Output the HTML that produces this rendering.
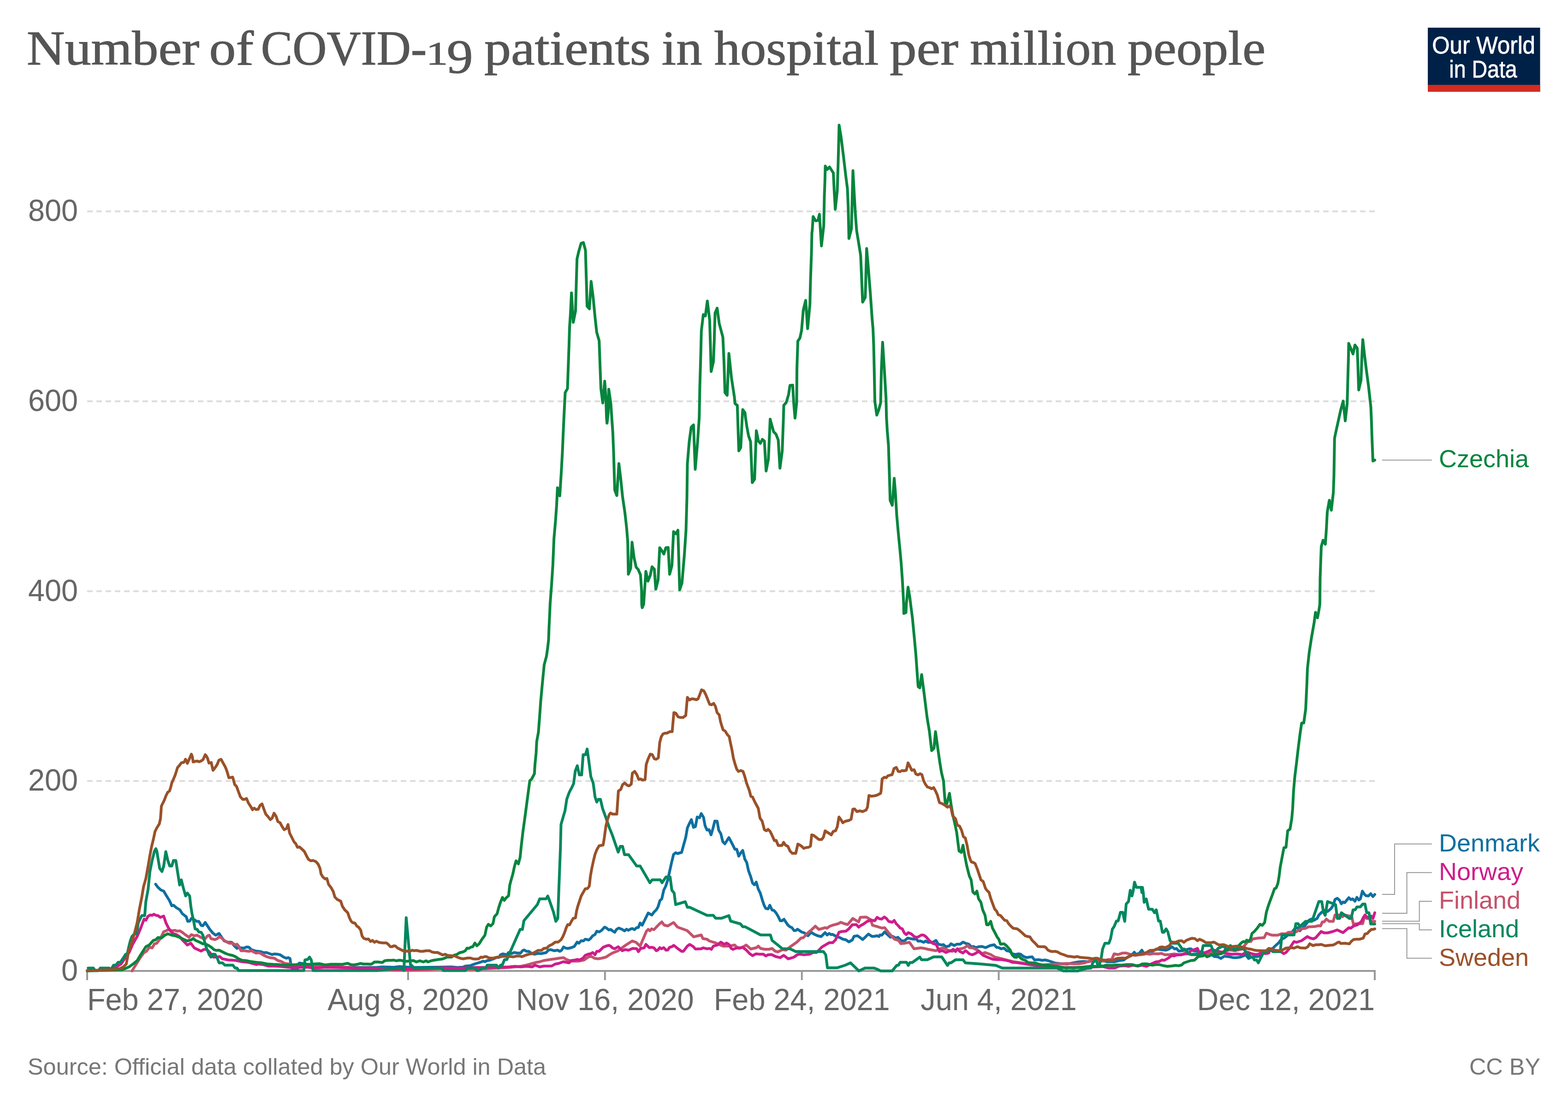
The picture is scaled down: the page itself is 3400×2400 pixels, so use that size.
<!DOCTYPE html>
<html lang="en"><head><meta charset="utf-8"><title>Number of COVID-19 patients in hospital per million people</title>
<style>
html,body{margin:0;padding:0;background:#fff;}
body{width:3400px;height:2400px;overflow:hidden;}
svg{display:block;}
@media (min-resolution:1.5dppx){body{width:100vw;height:auto;}svg{width:100vw;height:auto;}}
text{font-family:"Liberation Sans",Arial,Helvetica,sans-serif;}
.title{font-family:"Liberation Serif","Times New Roman",serif;fill:#555;}
.tick{fill:#666;font-size:64.8px;}
.lbl{font-size:54px;}
.foot{fill:#777;font-size:50.4px;}
.logo{fill:#fff;stroke:#fff;stroke-width:0.8px;}
.ln{fill:none;stroke-width:6;stroke-linejoin:round;stroke-linecap:round;}
.con{fill:none;stroke:#999;stroke-width:2;}
</style></head><body>
<svg width="3400" height="2400" viewBox="0 0 3400 2400">
<rect x="0" y="0" width="3400" height="2400" fill="#fff"/>
<text class="title" font-size="106" stroke="#555" stroke-width="1.2"><tspan x="57.97" y="140.20" font-size="106.00" textLength="374.20" lengthAdjust="spacingAndGlyphs">Number</tspan> <tspan x="453.63" y="140.20" font-size="106.00" textLength="96.41" lengthAdjust="spacingAndGlyphs">of</tspan> <tspan x="565.83" y="140.20" font-size="106.00" textLength="359.30" lengthAdjust="spacingAndGlyphs">COVID-</tspan><tspan x="923.95" y="140.20" font-size="72.84" textLength="47.42" lengthAdjust="spacingAndGlyphs">1</tspan><tspan x="968.78" y="158.03" font-size="102.86" textLength="56.92" lengthAdjust="spacingAndGlyphs">9</tspan> <tspan x="1050.11" y="140.20" font-size="106.00" textLength="360.84" lengthAdjust="spacingAndGlyphs">patients</tspan> <tspan x="1434.77" y="140.20" font-size="106.00" textLength="87.88" lengthAdjust="spacingAndGlyphs">in</tspan> <tspan x="1548.84" y="140.20" font-size="106.00" textLength="356.32" lengthAdjust="spacingAndGlyphs">hospital</tspan> <tspan x="1929.20" y="140.20" font-size="106.00" textLength="148.79" lengthAdjust="spacingAndGlyphs">per</tspan> <tspan x="2103.23" y="140.20" font-size="106.00" textLength="317.08" lengthAdjust="spacingAndGlyphs">million</tspan> <tspan x="2444.98" y="140.20" font-size="106.00" textLength="299.07" lengthAdjust="spacingAndGlyphs">people</tspan></text>
<g><rect x="3096" y="60" width="243.5" height="139" fill="#002147"/><rect x="3096" y="184" width="243.5" height="15" fill="#D42B21"/>
<text class="logo" transform="translate(3105.20,115.9) scale(0.9489,1)" font-size="52">Our World</text>
<text class="logo" transform="translate(3142.31,168) scale(0.8951,1)" font-size="52">in Data</text>
</g>
<line x1="189" x2="2981" y1="1693.3" y2="1693.3" stroke="#ddd" stroke-width="4" stroke-dasharray="12,8"/>
<line x1="189" x2="2981" y1="1281.7" y2="1281.7" stroke="#ddd" stroke-width="4" stroke-dasharray="12,8"/>
<line x1="189" x2="2981" y1="870.0" y2="870.0" stroke="#ddd" stroke-width="4" stroke-dasharray="12,8"/>
<line x1="189" x2="2981" y1="458.3" y2="458.3" stroke="#ddd" stroke-width="4" stroke-dasharray="12,8"/>
<text class="tick" transform="translate(169,2125.8) scale(1,1.04)" text-anchor="end">0</text>
<text class="tick" transform="translate(169,1714.1) scale(1,1.04)" text-anchor="end">200</text>
<text class="tick" transform="translate(169,1302.5) scale(1,1.04)" text-anchor="end">400</text>
<text class="tick" transform="translate(169,890.8) scale(1,1.04)" text-anchor="end">600</text>
<text class="tick" transform="translate(169,479.1) scale(1,1.04)" text-anchor="end">800</text>
<line x1="187" x2="2983" y1="2105" y2="2105" stroke="#999" stroke-width="4"/>
<line x1="189.0" x2="189.0" y1="2105" y2="2125" stroke="#999" stroke-width="4"/>
<text class="tick" transform="translate(189.0,2190) scale(1,1.04)" text-anchor="start">Feb 27, 2020</text>
<line x1="884.9" x2="884.9" y1="2105" y2="2125" stroke="#999" stroke-width="4"/>
<text class="tick" transform="translate(884.9,2190) scale(1,1.04)" text-anchor="middle">Aug 8, 2020</text>
<line x1="1311.8" x2="1311.8" y1="2105" y2="2125" stroke="#999" stroke-width="4"/>
<text class="tick" transform="translate(1311.8,2190) scale(1,1.04)" text-anchor="middle">Nov 16, 2020</text>
<line x1="1738.7" x2="1738.7" y1="2105" y2="2125" stroke="#999" stroke-width="4"/>
<text class="tick" transform="translate(1738.7,2190) scale(1,1.04)" text-anchor="middle">Feb 24, 2021</text>
<line x1="2165.6" x2="2165.6" y1="2105" y2="2125" stroke="#999" stroke-width="4"/>
<text class="tick" transform="translate(2165.6,2190) scale(1,1.04)" text-anchor="middle">Jun 4, 2021</text>
<line x1="2981.0" x2="2981.0" y1="2105" y2="2125" stroke="#999" stroke-width="4"/>
<text class="tick" transform="translate(2981.0,2190) scale(1,1.04)" text-anchor="end">Dec 12, 2021</text>
<polyline class="ln" stroke="#0F6FA0" points="337.5,1917.0 342.5,1923.8 348.8,1929.5 355.0,1932.0 361.2,1942.5 367.5,1952.5 372.5,1963.8 376.2,1962.5 382.5,1968.0 390.0,1972.5 395.0,1980.5 401.2,1985.5 403.8,1987.5 407.0,1997.5 411.2,1997.0 415.0,1991.2 420.0,1993.0 426.2,1997.5 431.2,1997.5 436.2,2006.2 440.0,2007.0 445.0,2000.0 450.0,2007.5 455.0,2015.0 461.2,2022.5 467.5,2027.5 475.0,2023.8 480.0,2031.2 486.2,2040.0 493.8,2042.5 502.5,2043.0 507.5,2050.0 513.8,2056.2 517.5,2053.8 525.0,2055.5 530.0,2055.0 535.0,2053.0 540.0,2053.8 545.0,2058.8 555.0,2062.0 565.0,2063.0 572.5,2065.5 577.5,2065.0 590.0,2069.5 595.0,2068.2 602.5,2068.8 607.5,2070.0 615.0,2075.0 621.2,2077.5 625.0,2076.2 628.8,2078.0 631.2,2095.0 633.8,2100.0 645.0,2100.0 648.8,2088.0 655.0,2088.8 667.5,2091.2 754.0,2097.5 816.5,2097.5 829.0,2096.2 854.0,2097.0 866.5,2095.5 875.8,2096.2 894.0,2097.5 954.0,2096.8 979.0,2096.2 991.5,2097.5 1004.0,2096.8 1009.0,2094.5 1019.0,2093.8 1029.0,2090.0 1041.5,2086.2 1047.8,2083.8 1051.5,2085.0 1056.5,2082.5 1061.5,2082.0 1070.2,2078.8 1076.5,2075.8 1081.5,2075.8 1085.2,2070.0 1090.2,2068.0 1099.0,2070.0 1102.8,2065.0 1109.0,2067.5 1115.2,2065.0 1121.5,2066.2 1129.0,2066.2 1132.8,2061.2 1136.5,2059.5 1141.5,2062.5 1146.5,2062.5 1151.5,2066.2 1159.0,2068.8 1166.5,2067.0 1174.0,2067.5 1179.0,2066.2 1184.0,2065.5 1189.0,2060.0 1194.0,2058.8 1201.5,2061.2 1209.0,2060.0 1214.0,2062.5 1217.8,2060.0 1222.0,2053.0 1226.5,2055.5 1231.5,2056.2 1239.0,2054.5 1245.2,2052.0 1251.5,2042.5 1255.2,2045.0 1260.2,2039.5 1265.2,2040.0 1269.0,2036.2 1276.5,2038.0 1280.2,2035.0 1285.2,2028.8 1290.2,2026.2 1294.0,2018.8 1299.0,2020.5 1304.0,2017.5 1311.0,2010.0 1315.2,2012.0 1320.2,2016.2 1324.0,2015.0 1328.0,2018.0 1333.0,2021.2 1336.8,2015.0 1341.8,2012.0 1349.2,2015.0 1354.2,2018.2 1358.5,2014.5 1362.5,2017.0 1368.0,2013.8 1371.8,2013.2 1375.5,2015.5 1380.5,2011.2 1384.2,2010.8 1388.0,2001.2 1392.5,2005.8 1405.5,1979.5 1413.5,1983.8 1418.0,1977.5 1423.0,1972.5 1426.8,1966.2 1431.0,1952.5 1435.0,1948.8 1439.2,1930.0 1443.5,1921.2 1448.0,1907.5 1451.8,1890.0 1456.0,1871.2 1460.5,1852.5 1465.0,1848.8 1469.2,1850.5 1478.0,1848.0 1482.5,1831.2 1486.8,1816.2 1490.5,1795.0 1495.0,1785.0 1499.2,1777.0 1503.8,1793.8 1508.0,1792.0 1511.8,1771.2 1516.8,1773.0 1520.5,1763.8 1525.5,1772.0 1528.8,1790.0 1533.0,1799.5 1537.5,1798.8 1541.8,1810.0 1546.2,1795.0 1550.0,1780.0 1555.0,1780.5 1558.5,1800.0 1563.0,1807.5 1567.2,1824.5 1571.8,1829.5 1580.5,1815.8 1588.0,1830.0 1593.5,1841.2 1597.5,1841.2 1601.8,1856.2 1605.5,1850.0 1610.5,1843.8 1615.0,1862.5 1619.2,1870.0 1623.0,1887.5 1628.0,1901.2 1631.8,1914.5 1635.5,1918.2 1639.8,1912.5 1644.2,1927.5 1648.5,1936.2 1653.0,1951.2 1656.8,1962.5 1660.5,1969.5 1665.5,1970.5 1669.2,1962.5 1674.2,1973.0 1678.0,1973.8 1682.5,1978.8 1687.5,1987.0 1691.8,1996.2 1695.5,1996.2 1700.0,1993.0 1708.0,2005.0 1713.0,2009.5 1716.8,2010.8 1721.8,2017.5 1725.5,2017.5 1729.2,2014.5 1738.0,2020.5 1744.2,2022.5 1751.8,2028.8 1759.2,2021.2 1765.5,2025.5 1773.0,2028.8 1780.5,2030.5 1789.2,2022.0 1793.5,2027.0 1798.0,2023.8 1801.8,2026.2 1805.5,2025.8 1814.2,2030.5 1820.5,2032.5 1828.0,2036.2 1834.2,2037.5 1840.5,2042.0 1848.0,2038.0 1851.8,2030.0 1859.2,2028.8 1864.2,2032.0 1870.5,2037.0 1876.8,2031.2 1883.0,2025.0 1890.5,2030.0 1895.5,2030.0 1902.0,2028.8 1905.8,2030.5 1908.2,2027.0 1912.0,2027.5 1918.2,2020.5 1925.8,2027.5 1930.8,2032.0 1935.8,2030.0 1942.0,2033.8 1947.0,2032.0 1954.5,2039.5 1960.8,2040.0 1968.2,2033.8 1974.5,2035.0 1982.0,2036.2 1987.0,2035.8 1990.8,2040.5 1995.8,2040.0 2003.2,2043.0 2007.0,2040.0 2012.0,2043.0 2022.0,2043.0 2029.5,2038.8 2034.5,2047.0 2042.0,2048.8 2045.8,2048.0 2050.8,2052.5 2058.2,2050.8 2062.0,2046.2 2069.5,2050.0 2074.5,2047.0 2082.0,2047.0 2088.2,2042.5 2094.5,2045.5 2100.8,2047.0 2105.8,2052.5 2110.8,2052.0 2115.8,2054.5 2122.0,2052.5 2129.5,2052.0 2137.0,2054.5 2147.0,2050.0 2155.8,2048.2 2160.8,2053.8 2165.8,2054.5 2170.8,2057.0 2177.0,2055.5 2183.2,2061.2 2188.2,2062.0 2195.8,2068.0 2202.0,2069.5 2208.2,2068.0 2213.2,2068.8 2219.5,2073.8 2227.0,2076.2 2232.0,2075.0 2238.2,2074.5 2243.2,2081.2 2252.0,2080.5 2259.5,2082.0 2265.8,2081.2 2272.0,2082.5 2279.5,2085.0 2288.2,2088.0 2302.0,2089.5 2314.5,2090.0 2327.0,2087.5 2338.2,2085.5 2349.5,2084.5 2359.5,2085.0 2367.0,2083.0 2374.5,2082.5 2387.0,2081.2 2399.5,2085.0 2414.5,2085.5 2427.0,2082.5 2437.0,2081.2 2444.5,2075.0 2452.0,2072.5 2459.5,2064.5 2464.5,2069.5 2470.8,2066.2 2476.0,2060.0 2481.0,2068.8 2487.2,2065.0 2493.5,2062.5 2499.8,2062.0 2507.2,2057.5 2516.0,2058.8 2528.5,2060.0 2534.8,2057.5 2541.0,2052.5 2547.2,2057.5 2551.0,2056.2 2556.0,2062.0 2563.5,2061.2 2571.0,2059.5 2578.5,2057.0 2583.5,2057.5 2587.2,2061.2 2603.5,2063.8 2618.5,2067.5 2626.0,2069.5 2633.5,2073.8 2641.0,2074.5 2647.2,2078.0 2654.8,2073.0 2661.0,2073.8 2667.2,2074.5 2673.5,2076.2 2681.0,2076.2 2689.8,2075.0 2696.0,2072.5 2701.0,2070.0 2707.2,2078.0 2713.5,2075.0 2719.8,2073.8 2728.5,2073.8 2736.0,2067.5 2746.0,2062.5 2753.5,2060.0 2759.8,2056.2 2766.0,2050.0 2772.2,2044.5 2778.5,2036.2 2784.8,2033.8 2792.2,2027.5 2801.0,2021.2 2808.5,2012.5 2813.5,2011.2 2818.5,2018.0 2823.5,2012.5 2831.0,2005.0 2838.5,1995.0 2843.5,1992.5 2848.5,1995.5 2856.0,1991.2 2859.8,1983.8 2864.8,1978.8 2871.0,1973.8 2878.5,1976.2 2886.0,1970.0 2891.0,1962.5 2894.8,1950.0 2899.8,1947.5 2904.8,1952.0 2908.5,1959.5 2912.2,1955.5 2916.0,1957.0 2920.5,1951.2 2924.8,1946.2 2929.0,1950.5 2933.0,1948.8 2938.0,1953.8 2942.2,1945.5 2946.5,1951.2 2949.8,1948.8 2954.2,1932.0 2958.5,1938.8 2962.2,1942.0 2967.2,1942.5 2972.2,1937.5 2976.8,1943.8 2981.0,1939.2"/>
<polyline class="ln" stroke="#C4526B" points="286.2,2105.0 305.0,2075.0 312.5,2065.0 317.5,2062.5 323.8,2053.8 330.0,2055.0 335.0,2046.2 340.0,2045.0 347.5,2035.0 355.0,2020.0 360.0,2018.0 366.2,2015.0 372.5,2018.0 378.8,2017.0 385.0,2018.8 390.0,2018.0 395.0,2021.2 402.5,2027.0 410.0,2032.0 415.0,2026.2 421.2,2028.8 427.5,2027.5 432.5,2030.5 438.8,2033.8 445.0,2035.0 450.0,2028.8 453.8,2027.5 457.5,2035.0 466.2,2037.0 471.2,2035.0 475.0,2031.2 480.0,2033.0 487.5,2040.0 497.5,2045.0 505.0,2045.0 510.0,2048.8 513.8,2047.0 517.5,2051.2 522.5,2061.2 530.0,2061.2 540.0,2062.5 545.0,2061.2 550.0,2063.8 555.0,2066.2 562.5,2065.5 570.0,2070.0 577.5,2073.8 585.0,2076.2 595.0,2077.5 602.5,2082.5 610.0,2084.5 617.5,2088.8 627.5,2090.0 642.5,2093.8 667.5,2095.0 705.0,2096.2 754.0,2097.0 779.0,2100.0 829.0,2102.0 879.0,2103.8 929.0,2102.5 954.0,2100.0 1004.0,2101.2 1029.0,2102.0 1054.0,2100.0 1079.0,2098.8 1104.0,2097.5 1129.0,2095.0 1141.5,2092.5 1154.0,2088.8 1164.0,2086.2 1169.0,2085.5 1179.0,2082.5 1191.5,2080.5 1204.0,2078.8 1211.5,2077.5 1221.5,2076.2 1229.0,2080.5 1235.2,2082.5 1241.5,2083.8 1254.0,2083.8 1266.5,2081.2 1275.2,2075.0 1281.5,2073.0 1289.0,2077.5 1296.5,2078.8 1304.0,2077.5 1314.0,2075.0 1321.5,2070.0 1328.0,2066.2 1340.5,2061.2 1355.5,2050.0 1371.0,2040.0 1379.2,2043.0 1388.0,2051.2 1401.8,2018.8 1405.5,2015.0 1409.2,2018.0 1413.0,2013.8 1418.0,2015.5 1429.2,2003.8 1435.0,1998.8 1440.5,2005.8 1448.0,2007.5 1460.5,2000.0 1469.2,2010.0 1490.0,2017.5 1504.2,2031.2 1520.5,2027.0 1524.2,2035.0 1533.0,2036.2 1538.0,2040.0 1550.5,2043.8 1558.0,2047.5 1568.0,2051.2 1578.0,2051.2 1586.8,2050.0 1593.0,2048.8 1598.0,2053.8 1605.5,2055.0 1613.0,2052.0 1618.0,2048.8 1628.0,2057.5 1640.5,2054.5 1644.2,2051.2 1649.2,2056.2 1658.0,2058.0 1668.0,2058.0 1674.2,2056.2 1680.5,2062.0 1686.8,2063.8 1696.8,2058.8 1704.2,2060.0 1715.5,2051.2 1728.0,2042.5 1736.8,2033.8 1741.8,2033.0 1753.0,2021.2 1760.5,2015.0 1768.0,2008.0 1775.5,2015.0 1783.0,2013.0 1789.2,2011.2 1793.0,2012.5 1798.0,2008.8 1805.5,2005.8 1818.0,2002.5 1823.0,1999.5 1830.5,2002.5 1838.0,2004.5 1849.2,1991.2 1855.5,1995.0 1861.8,1998.8 1865.5,1988.8 1878.0,1988.2 1888.0,1993.8 1891.8,2005.8 1902.0,2008.8 1912.0,2012.0 1918.2,2011.2 1927.0,2022.5 1939.5,2036.2 1948.2,2038.8 1953.2,2045.8 1960.8,2045.0 1972.0,2043.0 1982.0,2057.0 1997.0,2055.0 2004.5,2056.2 2012.0,2058.0 2029.5,2061.2 2038.2,2057.0 2045.8,2055.0 2054.5,2059.5 2064.5,2062.5 2077.0,2058.0 2087.0,2056.2 2093.2,2053.8 2098.2,2049.5 2102.0,2054.5 2109.5,2055.0 2122.0,2061.2 2129.5,2067.5 2135.8,2065.0 2148.2,2069.5 2157.0,2075.0 2169.5,2078.0 2184.5,2082.0 2197.0,2085.0 2214.5,2087.5 2232.0,2090.0 2252.0,2092.5 2272.0,2091.2 2292.0,2090.0 2314.5,2088.8 2327.0,2089.5 2339.5,2089.5 2352.0,2087.5 2359.5,2084.5 2369.5,2083.8 2377.0,2082.5 2392.0,2083.8 2402.0,2080.5 2410.8,2080.0 2415.8,2068.0 2424.5,2069.5 2434.5,2066.2 2442.0,2066.2 2452.0,2069.5 2462.0,2071.2 2469.5,2070.0 2476.0,2069.5 2483.5,2067.5 2493.5,2068.8 2501.0,2067.5 2511.0,2068.0 2518.5,2067.0 2526.0,2070.0 2536.0,2069.5 2546.0,2068.2 2556.0,2069.5 2567.2,2068.8 2576.0,2067.5 2583.5,2070.0 2593.5,2070.0 2616.0,2068.8 2623.5,2067.0 2631.0,2065.0 2651.0,2063.8 2666.0,2059.5 2678.5,2061.2 2693.5,2057.5 2698.5,2050.0 2706.0,2041.2 2712.2,2041.2 2716.0,2035.8 2728.5,2033.8 2741.0,2033.0 2746.0,2023.0 2753.5,2026.2 2758.5,2027.5 2771.0,2027.5 2778.5,2024.5 2788.5,2024.5 2793.5,2021.2 2801.0,2021.2 2811.0,2020.0 2821.0,2013.8 2831.0,2012.5 2837.2,2009.5 2851.0,2008.8 2858.5,2007.0 2863.5,2007.5 2867.2,1998.8 2871.0,1998.8 2876.0,1992.5 2882.2,1997.5 2891.0,1997.5 2894.8,1983.8 2906.0,1983.8 2911.0,1987.5 2916.0,1983.8 2927.2,1986.2 2931.0,1987.5 2934.8,2003.8 2943.5,2002.5 2954.8,2002.5 2959.8,1983.8 2963.5,1991.2 2969.8,1991.2 2973.5,1997.5 2981.0,1997.5"/>
<polyline class="ln" stroke="#CF1C8B" points="242.5,2102.5 262.5,2090.0 272.5,2075.0 280.0,2065.0 287.5,2047.5 297.5,2030.0 305.0,2012.5 312.5,1992.5 316.2,1995.0 321.2,1986.2 326.2,1983.8 330.0,1984.5 333.8,1982.0 338.0,1984.5 342.5,1985.0 347.5,1988.8 355.0,1986.2 360.0,2001.2 365.0,2011.2 370.0,2018.8 375.0,2023.8 382.5,2026.2 390.0,2031.2 397.5,2040.0 402.5,2045.0 406.2,2048.8 413.8,2045.0 417.5,2050.0 421.2,2055.0 426.2,2057.5 436.2,2062.0 441.2,2058.8 447.5,2058.0 455.0,2065.0 462.5,2075.0 471.2,2075.0 476.2,2073.8 482.5,2078.8 495.0,2081.2 510.0,2082.0 525.0,2085.0 537.5,2086.2 547.5,2088.8 556.2,2091.2 560.0,2090.0 570.0,2091.2 582.5,2094.5 592.5,2094.5 605.0,2095.0 617.5,2096.2 630.0,2097.5 642.5,2097.5 655.0,2097.0 667.5,2097.0 680.0,2098.8 692.5,2098.0 705.0,2097.0 730.0,2097.5 754.0,2098.2 779.0,2098.8 804.0,2098.8 829.0,2100.0 854.0,2101.2 879.0,2101.2 904.0,2100.8 929.0,2099.5 954.0,2098.0 979.0,2098.8 1004.0,2098.8 1029.0,2097.5 1054.0,2097.5 1079.0,2097.0 1104.0,2096.2 1116.5,2095.0 1129.0,2096.2 1141.5,2095.0 1154.0,2096.2 1160.2,2092.5 1170.2,2096.2 1179.0,2094.5 1196.5,2094.2 1204.0,2090.0 1211.5,2088.8 1221.5,2085.0 1234.0,2087.5 1239.0,2082.5 1247.8,2081.2 1251.5,2080.0 1256.5,2081.2 1264.0,2077.5 1269.0,2071.2 1275.2,2068.8 1281.5,2067.5 1285.2,2065.0 1290.2,2070.0 1294.0,2062.5 1299.0,2062.5 1307.8,2053.8 1314.0,2051.2 1320.2,2049.5 1324.0,2051.2 1328.0,2055.0 1333.0,2057.0 1340.5,2052.5 1349.2,2061.2 1355.5,2058.8 1363.0,2060.0 1371.8,2056.2 1380.5,2056.8 1384.2,2063.2 1389.2,2056.2 1396.8,2055.0 1400.5,2047.5 1408.0,2054.5 1414.2,2053.8 1418.0,2055.0 1423.0,2061.2 1426.8,2059.5 1430.5,2054.5 1434.2,2057.0 1439.2,2054.5 1444.2,2060.0 1448.0,2059.5 1451.8,2053.8 1456.8,2052.5 1461.0,2049.5 1469.2,2056.2 1478.0,2062.5 1481.8,2062.5 1490.5,2051.2 1495.5,2047.5 1503.0,2052.0 1508.0,2057.5 1520.5,2057.0 1524.2,2055.0 1533.0,2057.0 1539.2,2056.2 1542.5,2058.2 1546.8,2051.2 1555.5,2048.8 1563.0,2042.5 1570.5,2047.5 1575.5,2044.5 1580.5,2047.5 1585.5,2056.2 1589.2,2058.2 1598.0,2055.0 1603.0,2055.8 1610.5,2053.8 1618.0,2059.5 1625.5,2067.5 1631.8,2071.8 1639.2,2068.0 1646.8,2068.8 1655.5,2068.8 1660.5,2072.5 1665.5,2070.0 1673.0,2069.5 1681.8,2073.8 1691.8,2076.2 1699.2,2071.2 1709.2,2078.8 1715.5,2077.0 1721.8,2075.0 1729.2,2069.5 1735.5,2068.8 1743.0,2070.0 1755.5,2068.8 1763.0,2065.0 1770.5,2065.0 1778.0,2057.5 1783.0,2052.5 1798.0,2043.8 1805.5,2043.8 1811.8,2037.5 1819.2,2021.2 1825.5,2019.5 1834.2,2018.8 1840.5,2013.8 1848.0,2005.0 1856.8,2004.5 1861.8,2010.0 1866.8,2006.2 1871.8,2003.8 1880.5,1997.5 1889.2,1995.0 1896.8,1996.2 1902.0,1988.8 1907.0,1992.0 1912.0,1992.5 1917.5,1988.0 1922.0,1991.2 1927.0,1997.5 1934.5,1999.5 1939.0,1995.5 1943.2,2002.5 1948.2,2007.5 1952.0,2012.0 1956.5,2013.8 1960.8,2022.5 1965.0,2026.2 1969.5,2022.0 1975.8,2024.5 1983.2,2031.2 1989.5,2032.0 1998.2,2027.0 2003.2,2027.5 2008.2,2031.2 2015.8,2040.0 2023.2,2045.5 2030.0,2047.5 2034.0,2056.2 2037.0,2063.0 2042.0,2061.2 2045.8,2062.0 2050.8,2065.0 2057.0,2062.5 2062.0,2061.2 2067.0,2058.0 2072.0,2063.0 2075.8,2057.0 2080.8,2062.5 2088.2,2066.2 2093.2,2061.2 2095.8,2062.5 2102.0,2068.0 2108.2,2070.0 2114.5,2067.5 2122.0,2062.5 2127.0,2067.0 2132.0,2071.2 2139.5,2074.5 2152.0,2079.5 2162.0,2080.5 2172.0,2080.5 2182.0,2082.0 2189.5,2083.8 2194.5,2086.2 2204.5,2087.0 2217.0,2088.8 2232.0,2091.2 2252.0,2093.8 2277.0,2096.2 2302.0,2097.5 2327.0,2097.5 2352.0,2097.0 2377.0,2096.2 2392.0,2095.5 2404.5,2098.8 2417.0,2098.8 2427.0,2094.5 2439.5,2093.8 2447.0,2095.0 2457.0,2092.5 2467.0,2094.5 2476.0,2092.5 2486.0,2095.0 2496.0,2090.0 2506.0,2085.5 2513.5,2084.5 2519.8,2081.2 2524.8,2082.0 2533.5,2077.0 2541.5,2071.2 2546.0,2072.5 2551.0,2070.5 2562.2,2070.0 2571.0,2066.2 2576.0,2068.0 2582.2,2061.2 2589.8,2058.8 2596.5,2056.2 2601.0,2066.2 2606.0,2069.5 2611.0,2066.2 2621.0,2062.0 2626.0,2059.5 2632.2,2060.0 2638.5,2061.2 2651.0,2065.0 2661.0,2067.5 2671.0,2068.8 2683.5,2068.2 2693.5,2069.5 2701.0,2065.0 2706.0,2064.5 2713.5,2067.5 2722.2,2069.5 2728.5,2068.8 2736.0,2065.0 2743.5,2067.5 2751.0,2066.2 2753.5,2061.2 2761.0,2060.0 2771.0,2060.8 2778.5,2063.8 2783.5,2067.5 2788.5,2065.0 2796.0,2056.2 2806.0,2041.2 2811.0,2043.0 2822.2,2039.5 2834.8,2030.5 2841.0,2033.8 2848.5,2035.5 2853.5,2032.5 2864.8,2019.5 2871.0,2022.5 2878.5,2022.5 2888.5,2020.0 2899.8,2016.2 2912.2,2022.0 2924.8,2011.2 2928.5,2012.5 2936.0,2007.0 2943.5,2005.0 2952.2,1997.5 2956.0,1989.5 2959.8,1983.8 2964.8,1988.8 2969.8,1990.0 2973.5,1986.2 2977.2,1991.2 2981.0,1978.8"/>
<polyline class="ln" stroke="#05853D" points="189.0,2105.0 265.0,2102.5 280.0,2096.2 290.0,2088.8 297.5,2082.5 305.0,2070.0 316.2,2052.5 323.8,2048.8 332.5,2038.8 337.5,2037.5 342.5,2032.5 350.0,2033.8 357.5,2027.5 363.8,2024.5 372.5,2027.5 380.0,2028.8 390.0,2032.5 397.5,2036.2 406.2,2040.0 415.0,2037.5 418.8,2034.5 423.8,2038.8 432.5,2042.5 440.0,2046.2 445.0,2046.2 452.5,2050.0 460.0,2055.0 463.8,2058.8 468.8,2060.5 475.0,2060.0 480.0,2062.5 490.0,2067.5 497.5,2070.0 503.8,2071.2 510.0,2073.8 517.5,2078.8 525.0,2082.0 532.5,2082.5 542.5,2084.5 555.0,2086.2 567.5,2087.5 580.0,2090.0 592.5,2090.8 605.0,2091.2 617.5,2092.5 630.0,2092.0 642.5,2091.2 655.0,2090.0 670.0,2090.8 680.0,2090.0 692.5,2089.2 705.0,2092.0 717.5,2090.5 730.0,2090.5 742.5,2090.8 754.0,2088.4 760.2,2091.2 766.5,2092.0 774.0,2090.8 781.5,2088.8 787.8,2090.0 796.5,2090.0 804.0,2090.5 807.8,2088.8 811.5,2085.8 819.0,2085.5 829.0,2086.8 834.0,2083.0 840.2,2082.0 849.0,2082.0 854.0,2081.5 859.0,2083.0 866.5,2081.8 874.0,2083.0 881.5,2084.2 890.2,2083.0 896.5,2082.5 902.8,2085.5 910.2,2083.0 917.8,2085.5 924.0,2083.0 927.8,2085.5 936.5,2082.5 944.0,2081.2 951.5,2080.0 959.0,2079.2 964.0,2077.5 969.0,2075.0 979.0,2075.0 984.0,2071.2 990.2,2069.5 996.5,2065.5 1004.0,2063.8 1009.0,2061.2 1012.8,2055.5 1016.5,2056.2 1021.5,2053.2 1025.2,2052.5 1029.8,2044.5 1034.0,2050.5 1039.0,2046.2 1045.2,2036.2 1051.5,2027.5 1055.2,2010.0 1059.0,2003.8 1064.0,2007.5 1069.0,2002.5 1072.0,1987.5 1077.8,1981.2 1081.5,1967.5 1085.2,1956.2 1089.5,1945.5 1093.5,1952.0 1097.8,1946.2 1102.8,1942.0 1105.2,1920.0 1107.0,1912.5 1112.0,1895.0 1115.2,1880.0 1119.0,1866.2 1124.0,1873.0 1127.8,1858.8 1130.2,1835.0 1134.0,1802.5 1137.8,1775.0 1141.5,1747.5 1145.8,1715.0 1148.8,1692.5 1152.5,1689.5 1156.2,1682.5 1158.8,1677.5 1160.0,1657.5 1162.5,1632.5 1163.8,1607.5 1167.5,1587.5 1170.0,1555.0 1172.5,1520.0 1176.2,1480.0 1180.0,1441.2 1185.0,1422.5 1187.5,1405.0 1189.5,1387.5 1190.5,1360.0 1192.0,1330.0 1192.8,1310.0 1196.2,1265.0 1198.8,1225.0 1201.2,1167.5 1204.5,1130.0 1207.0,1095.0 1208.8,1057.5 1213.8,1075.0 1217.0,1025.0 1219.5,980.0 1221.2,940.0 1222.8,905.0 1225.5,851.2 1230.5,842.5 1232.0,800.0 1233.8,750.0 1235.0,710.0 1237.0,680.0 1239.2,635.0 1243.0,698.8 1248.0,673.8 1249.5,617.5 1251.2,561.2 1255.0,545.0 1260.0,527.5 1265.0,525.8 1269.5,542.5 1271.2,600.0 1273.0,663.8 1278.0,669.5 1281.8,610.0 1286.2,645.0 1290.0,685.0 1293.8,720.0 1299.2,738.8 1301.2,795.0 1303.0,842.5 1307.0,873.8 1311.2,826.2 1313.8,862.5 1315.2,906.2 1316.2,917.5 1317.5,907.5 1318.8,895.0 1320.0,843.8 1324.5,875.0 1326.5,905.0 1328.8,937.5 1330.5,980.0 1332.0,1030.0 1333.0,1062.5 1337.5,1074.5 1342.0,1005.0 1346.2,1040.0 1350.0,1077.5 1355.0,1111.2 1358.8,1145.0 1361.2,1175.0 1362.5,1245.0 1367.5,1232.5 1370.5,1175.5 1375.0,1210.0 1379.5,1230.0 1383.8,1234.5 1388.8,1246.2 1391.2,1280.0 1391.5,1310.6 1392.5,1317.5 1395.6,1310.6 1400.5,1238.8 1405.0,1260.0 1410.0,1247.5 1413.8,1228.8 1418.8,1233.8 1422.0,1277.5 1427.0,1257.5 1430.5,1187.5 1435.0,1193.8 1439.5,1201.2 1443.8,1187.5 1448.8,1187.0 1452.0,1245.0 1457.0,1226.2 1460.5,1152.5 1465.5,1157.5 1470.0,1149.5 1473.8,1278.8 1478.8,1263.8 1483.8,1205.0 1487.5,1150.0 1489.5,1080.0 1490.5,1005.0 1494.5,957.5 1498.8,926.2 1503.8,921.2 1507.5,1017.5 1512.5,960.0 1516.2,905.0 1517.5,837.5 1519.5,770.0 1520.8,717.5 1525.0,682.0 1529.5,685.0 1533.8,652.5 1538.8,693.8 1540.5,750.0 1542.0,805.5 1547.0,783.8 1548.8,737.5 1550.5,678.8 1555.0,668.0 1559.5,701.2 1567.5,731.2 1570.0,787.5 1572.0,851.2 1576.8,857.0 1580.5,766.2 1586.2,820.0 1592.5,861.2 1593.8,875.0 1598.8,878.8 1599.6,905.0 1602.0,977.5 1606.2,970.5 1609.4,905.0 1610.5,888.0 1615.5,895.0 1616.5,905.0 1619.5,925.0 1623.2,945.0 1627.5,957.5 1631.2,1046.2 1636.2,1038.8 1640.0,933.8 1644.5,956.2 1648.8,961.2 1653.0,952.5 1657.5,956.2 1661.2,1021.2 1666.2,995.0 1670.0,908.8 1677.5,936.2 1682.5,941.2 1687.5,953.8 1691.2,1015.0 1696.2,977.5 1698.8,905.0 1699.5,878.8 1705.0,872.5 1710.0,855.0 1713.0,835.5 1718.8,835.0 1721.2,875.0 1723.9,906.6 1727.5,872.5 1728.0,800.0 1730.0,739.5 1734.5,733.0 1738.0,717.0 1741.8,672.5 1747.0,651.2 1751.2,712.5 1756.2,660.0 1757.5,607.5 1759.5,550.0 1760.5,505.0 1761.2,500.0 1763.2,469.5 1768.8,478.8 1773.8,477.5 1776.8,464.5 1781.2,533.2 1786.2,488.8 1787.5,425.0 1788.8,390.0 1789.5,360.0 1793.8,367.5 1798.8,362.0 1807.0,375.0 1808.8,412.5 1811.2,453.8 1815.5,413.8 1817.5,350.0 1818.8,300.0 1819.5,271.2 1823.8,297.5 1828.8,337.5 1833.8,380.0 1837.5,408.8 1839.2,447.5 1840.8,517.0 1846.2,496.2 1848.0,425.0 1849.5,370.0 1852.5,425.0 1855.0,467.5 1857.5,500.0 1861.2,522.5 1866.2,553.8 1868.0,595.0 1870.5,655.0 1876.2,644.5 1879.2,538.8 1883.0,582.5 1887.5,640.0 1891.2,692.5 1893.0,712.5 1894.5,750.0 1895.5,795.0 1896.2,830.0 1897.0,870.0 1901.2,900.0 1905.0,890.0 1909.5,873.8 1911.2,800.0 1913.8,742.0 1917.5,800.0 1921.2,862.5 1922.2,905.0 1924.0,935.0 1926.5,965.0 1927.8,1005.0 1929.0,1045.0 1930.2,1085.0 1934.8,1095.5 1939.0,1037.0 1941.5,1067.5 1944.5,1117.5 1947.8,1155.0 1951.0,1187.5 1954.0,1220.0 1956.5,1255.0 1958.5,1290.0 1959.5,1310.0 1959.8,1330.0 1964.5,1328.0 1965.2,1310.0 1969.0,1273.0 1972.8,1295.0 1974.6,1310.0 1978.5,1340.0 1982.8,1385.0 1986.0,1420.0 1989.5,1470.0 1991.0,1488.8 1994.5,1491.2 1998.5,1462.5 2004.0,1505.0 2010.2,1555.0 2015.2,1585.0 2020.2,1627.5 2025.2,1622.5 2028.5,1586.2 2033.5,1622.5 2037.8,1652.5 2041.5,1675.0 2046.0,1693.8 2047.4,1715.0 2049.5,1740.0 2053.2,1742.5 2058.8,1720.0 2062.0,1742.5 2065.8,1765.0 2070.8,1787.5 2074.5,1805.0 2077.0,1825.0 2079.5,1845.0 2084.5,1848.0 2088.2,1832.5 2092.0,1855.0 2095.8,1875.0 2099.5,1890.0 2102.0,1899.5 2105.8,1907.5 2109.5,1933.8 2114.0,1938.0 2118.2,1932.0 2122.0,1948.8 2127.0,1956.2 2130.8,1972.5 2135.8,1983.8 2139.5,2005.0 2143.2,2005.0 2148.2,1997.5 2152.0,2012.0 2157.0,2021.2 2162.0,2031.2 2165.8,2036.2 2169.5,2047.0 2177.0,2046.2 2182.0,2050.0 2190.8,2060.0 2194.5,2070.0 2199.5,2075.0 2204.5,2075.5 2208.2,2071.2 2212.0,2076.2 2217.0,2080.0 2223.2,2082.0 2229.5,2087.0 2237.0,2087.5 2245.8,2088.0 2253.2,2090.5 2262.0,2092.5 2272.0,2092.5 2282.0,2094.5 2292.0,2095.5 2302.0,2097.0 2312.0,2098.8 2319.5,2098.0 2327.0,2098.8 2339.5,2097.5 2352.0,2096.2 2364.5,2095.0 2377.0,2095.0 2384.5,2093.8 2392.0,2094.5 2399.5,2092.5 2412.0,2093.0 2422.0,2092.0 2432.0,2092.5 2443.2,2091.2 2454.5,2091.2 2464.5,2093.8 2472.0,2092.5 2476.0,2090.0 2483.5,2089.5 2491.0,2090.5 2498.5,2092.5 2506.0,2091.2 2513.5,2091.2 2523.5,2093.8 2531.0,2095.0 2541.0,2094.2 2548.5,2093.0 2556.0,2093.8 2562.2,2092.0 2567.2,2087.5 2574.8,2085.0 2582.2,2082.5 2589.8,2081.8 2594.8,2077.0 2598.5,2073.8 2608.5,2072.5 2612.2,2070.0 2617.2,2074.5 2623.5,2072.0 2626.0,2069.5 2636.0,2069.5 2648.5,2067.5 2653.5,2063.8 2656.0,2060.0 2662.2,2058.8 2668.0,2050.0 2672.2,2053.8 2676.0,2059.5 2679.8,2058.8 2686.0,2050.0 2689.8,2046.2 2693.0,2043.0 2696.0,2041.2 2699.8,2042.5 2703.5,2038.2 2707.2,2040.8 2711.5,2036.2 2714.8,2023.8 2719.8,2019.5 2726.0,2012.5 2732.2,2003.8 2737.2,2006.2 2742.2,2000.0 2746.0,1977.5 2749.8,1965.0 2753.5,1954.5 2758.5,1941.2 2763.5,1927.0 2767.2,1925.0 2771.0,1915.0 2773.5,1900.0 2776.0,1880.0 2779.8,1860.0 2784.0,1838.0 2788.5,1837.0 2792.2,1801.2 2797.2,1797.5 2801.0,1775.0 2803.0,1752.5 2804.9,1715.0 2807.5,1685.0 2811.2,1655.0 2815.0,1622.5 2818.8,1592.5 2822.5,1567.5 2827.0,1567.5 2831.2,1537.5 2832.5,1510.0 2833.8,1482.5 2835.0,1450.0 2838.8,1415.0 2843.8,1382.5 2849.5,1350.0 2852.5,1327.5 2856.8,1339.5 2860.0,1322.5 2861.9,1310.0 2862.5,1255.0 2863.8,1217.5 2865.0,1185.0 2868.8,1171.2 2873.8,1180.0 2876.2,1145.0 2878.0,1110.0 2882.5,1084.5 2886.8,1106.2 2891.2,1067.5 2892.5,1030.0 2893.8,950.0 2897.5,932.5 2902.5,910.0 2907.5,887.5 2912.5,869.5 2917.0,912.5 2921.2,875.0 2922.5,825.0 2923.8,780.0 2924.5,744.5 2928.8,755.0 2933.8,767.5 2938.0,748.0 2943.0,755.0 2944.5,795.0 2946.2,845.5 2951.2,823.8 2953.0,775.0 2955.0,736.2 2958.8,770.0 2962.5,800.0 2967.5,837.5 2972.5,882.5 2973.8,912.5 2975.0,950.0 2976.2,980.0 2977.0,999.5 2981.0,997.5"/>
<polyline class="ln" stroke="#00875E" points="191.2,2098.8 202.5,2098.8 206.2,2104.2 213.8,2104.2 217.5,2098.8 236.2,2098.8 241.2,2101.2 246.2,2092.5 251.2,2092.5 256.2,2086.2 261.2,2086.2 272.5,2068.8 276.2,2067.5 278.8,2055.0 282.5,2040.0 286.2,2030.0 291.2,2025.0 296.2,2025.0 300.0,2000.0 305.0,1990.0 307.5,1985.0 313.8,1985.0 316.2,1955.0 321.2,1927.5 325.0,1890.0 330.0,1865.0 335.0,1845.0 338.0,1840.0 340.0,1845.0 346.2,1882.5 351.2,1889.5 355.0,1877.5 359.5,1846.2 363.8,1865.0 368.0,1877.5 372.5,1877.5 376.2,1865.5 381.2,1865.5 385.0,1890.0 389.5,1918.8 393.2,1907.5 397.5,1925.0 402.5,1942.5 406.2,1936.2 411.2,1942.5 413.8,1965.0 416.2,1980.0 420.0,1997.5 423.0,2013.8 427.5,2015.0 431.2,2020.5 436.2,2021.2 440.0,2027.5 443.8,2042.5 447.5,2055.0 453.8,2070.0 457.5,2075.0 461.2,2068.8 466.2,2068.8 471.2,2077.5 475.0,2087.5 482.5,2087.5 487.5,2092.5 505.0,2092.5 510.0,2098.8 513.8,2098.8 517.5,2104.2 658.8,2104.2 661.2,2081.2 667.5,2080.0 671.2,2075.0 675.0,2081.2 678.8,2104.2 754.0,2104.2 816.5,2104.2 829.0,2103.0 841.5,2101.5 854.0,2100.0 864.0,2098.8 871.5,2100.0 875.8,2104.2 880.8,1989.5 890.2,2093.0 892.8,2093.0 897.8,2098.8 954.0,2098.8 957.8,2098.8 961.5,2104.2 1009.0,2104.2 1012.8,2098.8 1030.2,2098.8 1034.0,2104.2 1037.8,2104.2 1046.5,2098.8 1052.8,2098.8 1056.5,2092.5 1076.5,2092.5 1081.0,2098.8 1085.2,2092.5 1089.0,2092.5 1094.0,2080.5 1099.0,2080.5 1104.0,2068.8 1127.8,2015.0 1132.8,2015.0 1136.0,1996.2 1165.2,1961.2 1170.2,1948.8 1184.0,1948.8 1187.8,1942.5 1191.5,1952.5 1200.2,1977.5 1205.2,1997.5 1209.5,1991.2 1212.0,1922.5 1215.2,1840.0 1216.5,1787.5 1221.5,1770.0 1225.2,1757.5 1229.0,1732.5 1234.0,1718.8 1235.8,1715.0 1240.5,1706.2 1243.8,1698.8 1247.5,1671.2 1251.8,1660.0 1256.2,1680.0 1261.2,1680.0 1264.5,1636.2 1269.5,1636.2 1273.2,1623.8 1275.8,1642.5 1281.2,1683.8 1286.2,1697.5 1288.6,1715.0 1290.2,1727.5 1294.0,1738.8 1297.8,1733.0 1302.0,1733.0 1306.5,1752.5 1312.8,1770.0 1321.5,1795.0 1328.0,1811.2 1340.5,1847.5 1345.0,1835.0 1350.0,1835.0 1354.2,1853.0 1363.0,1853.0 1380.5,1877.5 1388.0,1877.5 1409.2,1913.8 1414.2,1907.5 1431.8,1907.5 1435.5,1913.8 1444.2,1901.2 1453.0,1901.2 1456.8,1930.0 1461.8,1936.2 1465.0,1961.2 1486.0,1955.0 1490.5,1967.0 1495.5,1967.0 1533.0,1984.5 1546.8,1984.5 1551.8,1990.8 1564.2,1990.8 1580.5,1985.0 1584.2,1997.0 1605.5,2003.0 1610.5,2009.2 1615.5,2009.2 1649.2,2027.0 1670.5,2027.0 1674.2,2038.8 1696.8,2057.0 1713.0,2057.0 1725.5,2063.0 1785.5,2063.0 1790.5,2070.0 1794.2,2098.2 1815.5,2098.2 1833.0,2092.5 1844.2,2087.5 1862.5,2105.0 1875.5,2098.8 1895.5,2098.8 1902.0,2101.2 1909.5,2105.0 1934.5,2105.0 1944.5,2093.0 1948.2,2092.5 1952.0,2086.2 1965.8,2086.2 1969.5,2093.0 1973.2,2086.8 1978.2,2086.8 1994.5,2075.0 1998.2,2080.8 2010.8,2080.8 2024.5,2074.5 2042.0,2074.5 2054.5,2093.0 2058.2,2087.5 2062.0,2087.5 2072.0,2080.8 2088.2,2080.8 2093.2,2087.5 2127.0,2090.0 2159.5,2093.0 2173.2,2098.8 2292.0,2098.8 2305.8,2105.0 2337.0,2105.0 2357.0,2099.2 2365.8,2098.8 2369.5,2087.5 2373.2,2083.8 2377.0,2082.5 2380.8,2093.0 2384.5,2090.0 2388.2,2075.0 2390.8,2057.5 2395.8,2045.0 2404.5,2045.0 2408.2,2035.0 2412.0,2014.5 2415.8,2008.8 2420.8,1996.8 2424.5,1996.8 2429.5,1978.0 2434.5,1978.0 2438.8,1997.5 2442.0,1960.0 2447.0,1954.5 2450.8,1930.0 2454.5,1942.5 2457.0,1932.5 2460.0,1912.5 2464.0,1923.8 2474.5,1923.8 2476.0,1935.0 2477.2,1923.8 2479.0,1935.0 2481.0,1956.2 2485.5,1948.8 2490.5,1971.2 2498.5,1971.2 2503.5,1978.8 2507.2,1972.5 2512.2,1997.0 2516.0,1997.0 2520.5,2021.2 2524.0,2021.2 2528.5,2013.8 2532.2,2020.0 2537.2,2039.5 2542.2,2045.0 2554.8,2045.0 2563.5,2057.5 2568.5,2057.5 2579.8,2068.8 2604.8,2068.8 2609.0,2050.0 2626.0,2050.0 2631.5,2063.2 2636.0,2063.2 2641.0,2056.2 2652.2,2051.2 2659.8,2057.5 2676.0,2057.5 2686.0,2057.0 2696.0,2057.0 2712.2,2075.0 2716.5,2075.0 2719.8,2081.2 2724.8,2081.2 2728.5,2087.5 2739.8,2065.0 2747.2,2063.8 2751.0,2057.0 2754.8,2057.0 2759.8,2063.2 2776.0,2063.2 2779.8,2027.0 2806.0,2027.0 2809.8,2002.5 2814.8,2002.5 2818.5,2008.8 2831.0,1997.5 2844.8,1997.5 2859.8,1954.5 2866.0,1954.5 2869.8,1977.5 2873.5,1984.5 2878.5,1954.5 2896.0,1961.2 2899.8,1991.2 2904.8,1991.2 2908.5,1978.8 2926.0,1991.2 2929.8,1991.2 2934.0,1972.5 2938.5,1972.5 2942.2,1966.2 2949.8,1966.2 2954.8,1960.0 2959.8,1960.0 2963.5,1978.8 2968.5,1978.8 2972.2,2003.2 2981.0,2003.2"/>
<polyline class="ln" stroke="#9A5129" points="189.0,2104.2 217.5,2103.2 242.5,2102.0 260.0,2100.0 267.5,2096.2 273.8,2090.0 276.2,2077.5 278.8,2062.5 285.0,2045.0 291.2,2025.0 297.5,2000.0 302.5,1970.0 307.5,1945.0 311.2,1922.5 316.2,1905.0 321.2,1877.5 325.0,1855.0 328.8,1835.0 332.5,1820.0 336.2,1802.5 340.0,1795.0 345.5,1786.2 348.0,1775.0 350.0,1747.5 352.5,1742.5 356.2,1735.0 360.0,1725.0 363.8,1717.5 367.5,1715.0 370.0,1707.5 372.5,1697.5 375.6,1690.6 380.0,1680.0 382.8,1671.2 384.8,1664.4 387.5,1661.2 390.6,1657.5 393.1,1654.0 395.6,1653.1 398.1,1653.1 400.0,1651.2 402.2,1646.0 404.4,1650.0 406.2,1655.0 408.5,1650.0 411.2,1643.8 413.1,1639.4 415.0,1635.0 416.9,1640.0 418.8,1651.9 421.9,1651.2 425.0,1650.2 428.1,1650.0 431.2,1651.5 434.4,1650.6 437.5,1649.0 440.6,1646.2 442.5,1641.9 445.0,1636.2 447.2,1638.8 450.0,1643.8 453.1,1654.4 455.6,1653.8 458.1,1653.1 460.0,1661.9 461.9,1670.0 465.0,1666.2 468.1,1661.9 471.2,1656.9 474.4,1648.5 477.5,1646.9 479.4,1646.2 482.5,1651.9 485.6,1657.5 488.1,1661.9 490.0,1666.2 493.1,1675.0 496.2,1686.2 500.0,1685.6 504.4,1684.8 506.0,1690.0 508.8,1700.6 513.1,1705.2 515.6,1712.5 521.2,1727.5 526.2,1733.0 530.0,1733.0 534.5,1731.2 538.8,1741.2 543.8,1748.8 547.5,1755.5 551.2,1752.0 555.0,1755.0 560.0,1754.5 563.8,1746.2 568.2,1743.0 572.5,1755.0 576.2,1765.0 581.2,1770.5 586.2,1777.0 590.0,1773.8 594.2,1763.0 598.8,1770.0 602.5,1781.2 607.5,1783.8 611.2,1791.2 616.2,1798.8 621.2,1796.2 624.5,1787.5 628.0,1806.2 632.5,1815.0 637.5,1825.0 641.2,1828.8 645.0,1837.0 649.5,1836.2 655.0,1841.2 660.0,1846.2 665.0,1856.2 668.8,1863.0 673.8,1866.2 678.8,1865.5 685.0,1868.0 690.0,1873.8 693.8,1882.5 696.2,1895.0 700.0,1901.2 705.0,1905.5 708.8,1904.5 712.5,1917.5 717.5,1923.8 722.5,1932.5 726.2,1945.0 731.2,1950.0 738.8,1953.8 742.5,1965.0 747.5,1972.5 754.0,1978.8 757.8,1990.0 761.5,1997.5 765.2,2000.5 769.5,2001.2 773.5,2007.5 777.8,2010.5 782.0,2016.2 785.2,2029.5 789.0,2034.5 794.0,2036.2 799.0,2035.8 803.5,2041.2 807.8,2038.8 812.0,2043.0 816.0,2040.5 821.5,2043.0 829.0,2044.2 837.8,2044.2 841.5,2047.0 846.5,2052.5 850.2,2052.5 854.0,2050.5 857.8,2051.2 861.5,2055.0 866.5,2057.5 871.5,2060.0 876.5,2062.5 881.5,2062.0 889.0,2062.5 894.0,2060.0 897.8,2061.2 902.8,2060.5 911.5,2062.5 916.5,2062.5 924.0,2061.2 931.5,2061.2 936.5,2063.8 941.5,2065.0 949.0,2065.0 954.0,2067.5 960.2,2070.5 965.2,2068.8 970.2,2071.2 979.0,2072.0 986.5,2072.5 991.5,2075.0 997.8,2077.5 1004.0,2078.8 1014.0,2077.0 1020.2,2077.0 1025.2,2078.8 1031.5,2079.2 1037.8,2078.8 1042.8,2075.0 1046.5,2075.8 1051.5,2073.8 1055.2,2074.2 1060.2,2076.8 1069.0,2077.5 1076.5,2075.5 1084.0,2074.5 1091.5,2073.0 1099.0,2073.8 1106.5,2073.8 1112.8,2074.5 1119.0,2073.0 1126.5,2072.5 1131.5,2074.2 1139.0,2071.2 1146.5,2068.8 1154.0,2067.5 1159.0,2065.0 1166.5,2060.5 1174.0,2060.5 1179.0,2056.2 1185.2,2055.5 1191.5,2050.0 1196.5,2048.0 1204.0,2042.5 1210.2,2042.5 1216.5,2037.5 1220.2,2031.2 1224.0,2022.5 1227.8,2011.2 1231.0,2004.5 1235.2,2005.0 1239.0,1997.5 1242.8,1991.2 1247.8,1990.0 1250.2,1975.0 1252.8,1965.0 1256.5,1953.8 1260.2,1942.5 1265.2,1933.8 1269.0,1927.0 1274.0,1926.2 1277.8,1921.2 1280.2,1900.0 1282.8,1885.0 1286.5,1867.5 1290.2,1852.5 1294.0,1842.5 1299.0,1833.8 1307.8,1832.0 1310.2,1817.5 1314.0,1790.0 1317.8,1775.0 1321.0,1766.2 1324.0,1762.5 1328.0,1765.0 1337.5,1765.0 1339.2,1740.0 1340.9,1715.0 1346.2,1711.2 1350.0,1701.2 1354.5,1697.5 1360.0,1702.5 1363.8,1703.8 1368.8,1700.0 1371.2,1676.2 1376.2,1672.5 1381.2,1680.0 1385.0,1690.0 1388.8,1688.8 1393.8,1691.2 1398.8,1690.0 1401.2,1657.5 1405.0,1646.2 1410.0,1635.0 1414.5,1636.2 1418.8,1645.0 1422.5,1646.2 1427.5,1643.0 1430.5,1610.0 1433.8,1597.5 1437.5,1591.2 1442.0,1589.5 1446.2,1589.5 1452.5,1586.2 1457.5,1586.2 1461.2,1545.0 1465.5,1546.2 1470.0,1553.8 1475.0,1555.5 1481.2,1555.5 1487.0,1551.2 1490.5,1512.0 1495.0,1517.5 1500.0,1515.0 1504.5,1515.5 1510.0,1517.0 1513.8,1515.0 1517.5,1505.5 1521.2,1495.5 1526.2,1498.0 1530.5,1506.2 1535.0,1517.5 1538.8,1527.0 1543.0,1528.0 1547.5,1525.0 1551.2,1531.2 1555.0,1545.0 1559.5,1550.0 1562.5,1565.0 1565.5,1575.0 1568.0,1582.5 1572.5,1585.0 1577.0,1592.5 1581.2,1597.0 1583.8,1610.0 1587.5,1627.5 1590.0,1642.5 1593.8,1656.2 1597.5,1667.5 1601.2,1672.5 1606.2,1670.5 1611.2,1672.5 1615.0,1683.8 1618.8,1697.5 1622.5,1707.5 1625.2,1715.0 1628.0,1726.2 1631.8,1728.0 1636.8,1738.8 1644.2,1752.5 1648.0,1773.8 1652.5,1780.0 1657.5,1798.8 1661.8,1801.2 1665.5,1798.0 1670.0,1802.5 1674.2,1811.2 1679.2,1822.5 1683.0,1822.0 1687.5,1833.0 1695.5,1833.0 1699.2,1826.2 1703.0,1832.0 1708.5,1835.0 1713.0,1845.0 1718.0,1850.0 1725.5,1850.0 1730.0,1830.0 1734.2,1832.0 1738.0,1834.5 1743.0,1839.2 1748.0,1837.5 1753.0,1837.0 1757.5,1834.5 1760.0,1810.0 1764.2,1811.2 1769.2,1815.0 1775.5,1820.0 1781.8,1820.0 1785.5,1815.0 1789.2,1801.2 1794.2,1804.5 1802.5,1810.0 1806.8,1802.5 1811.8,1801.2 1815.5,1792.5 1819.2,1771.2 1823.0,1776.2 1827.5,1783.8 1833.0,1780.5 1840.5,1778.8 1845.5,1776.2 1849.2,1754.5 1853.0,1753.8 1858.0,1759.5 1864.2,1758.0 1870.5,1759.5 1878.0,1756.2 1881.0,1750.0 1884.2,1724.5 1889.2,1726.2 1895.5,1725.5 1902.0,1723.8 1909.5,1720.0 1910.5,1715.0 1912.8,1688.8 1917.8,1685.0 1921.5,1686.2 1925.2,1682.0 1930.2,1680.5 1934.5,1679.5 1938.5,1666.2 1943.5,1663.8 1947.8,1672.5 1951.5,1673.0 1956.0,1670.5 1960.2,1671.2 1965.2,1670.0 1969.0,1653.8 1973.5,1662.5 1977.0,1670.0 1982.0,1668.8 1986.0,1678.0 1990.2,1680.0 1995.2,1677.5 1999.0,1679.5 2002.8,1692.5 2006.5,1700.0 2011.0,1706.2 2015.2,1707.5 2020.2,1710.0 2024.5,1707.5 2028.6,1715.0 2032.5,1723.8 2037.0,1740.0 2043.2,1742.5 2049.5,1746.2 2054.5,1750.0 2058.2,1747.5 2062.0,1751.2 2065.8,1768.8 2072.0,1775.0 2075.8,1788.8 2080.8,1791.2 2085.0,1800.0 2089.0,1813.8 2093.2,1817.0 2097.0,1832.5 2100.8,1853.8 2104.0,1863.8 2106.5,1868.8 2110.8,1870.0 2114.5,1872.5 2119.5,1885.0 2123.2,1896.2 2127.0,1907.5 2132.0,1911.2 2137.0,1926.2 2140.8,1931.2 2144.5,1934.5 2148.2,1947.5 2153.2,1961.2 2157.0,1971.2 2160.8,1975.0 2164.5,1983.0 2169.5,1985.0 2174.5,1990.8 2178.2,1995.0 2183.2,1996.2 2187.0,2002.5 2192.0,2008.0 2197.0,2012.5 2205.8,2013.8 2210.8,2017.5 2217.0,2023.0 2223.2,2028.8 2227.0,2030.0 2233.2,2031.2 2238.2,2038.8 2245.8,2046.2 2250.8,2052.0 2257.0,2052.5 2264.5,2052.5 2268.2,2054.5 2272.0,2059.5 2277.0,2062.0 2282.0,2063.0 2288.2,2062.5 2293.2,2063.8 2299.5,2067.5 2307.0,2070.0 2314.5,2073.0 2322.0,2073.8 2329.5,2075.0 2335.8,2073.8 2342.0,2075.5 2349.5,2076.2 2359.5,2077.0 2369.5,2078.8 2374.5,2077.5 2379.5,2077.5 2384.5,2080.0 2392.0,2081.2 2399.5,2082.0 2407.0,2083.0 2413.2,2082.5 2419.5,2078.8 2424.5,2077.5 2433.2,2077.0 2442.0,2077.5 2448.2,2073.8 2452.0,2070.8 2459.5,2070.0 2467.0,2069.5 2476.0,2068.0 2486.0,2065.0 2493.5,2060.5 2503.5,2060.0 2509.8,2057.5 2514.8,2053.8 2519.8,2053.0 2527.2,2054.5 2536.0,2050.0 2540.5,2042.5 2548.5,2043.0 2556.0,2040.0 2562.2,2039.5 2567.2,2043.0 2572.2,2038.8 2578.5,2036.2 2584.8,2034.2 2591.0,2035.0 2596.5,2039.5 2601.0,2036.2 2608.5,2039.5 2614.8,2043.8 2626.0,2043.8 2632.2,2042.5 2638.5,2046.2 2643.5,2048.8 2653.5,2048.0 2661.0,2051.2 2668.5,2053.8 2673.5,2052.0 2681.0,2051.2 2688.5,2052.5 2696.0,2053.8 2706.0,2057.0 2713.5,2058.0 2719.8,2060.0 2726.0,2060.8 2736.0,2061.2 2746.0,2061.2 2751.0,2056.2 2757.2,2057.0 2762.2,2060.0 2768.5,2061.2 2776.0,2060.8 2782.2,2058.8 2788.5,2055.5 2798.5,2054.5 2806.0,2055.5 2813.5,2052.5 2819.8,2055.0 2831.0,2055.5 2836.0,2052.5 2839.8,2046.2 2847.2,2050.0 2853.5,2048.2 2859.8,2048.2 2864.8,2047.5 2873.5,2050.5 2882.2,2049.5 2891.0,2048.8 2896.0,2046.2 2901.0,2043.0 2904.0,2042.5 2907.2,2045.5 2916.0,2045.0 2926.0,2046.2 2929.8,2041.2 2934.8,2037.0 2941.0,2036.2 2948.5,2036.2 2956.0,2033.8 2959.8,2025.0 2964.8,2023.8 2968.5,2019.5 2973.5,2015.0 2977.2,2015.0 2981.0,2013.8"/>
<polyline class="con" points="2997.0,997.5 3104.8,997.5"/>
<text class="lbl" x="3120" y="1012.8" fill="#05853D">Czechia</text>
<polyline class="con" points="2997.0,1939.0 3024.0,1939.0 3024.0,1829.8 3104.8,1829.8"/>
<text class="lbl" x="3120" y="1845.7" fill="#0F6FA0">Denmark</text>
<polyline class="con" points="2997.0,1980.1 3050.6,1980.1 3050.6,1891.7 3104.8,1891.7"/>
<text class="lbl" x="3120" y="1907.7" fill="#CF1C8B">Norway</text>
<polyline class="con" points="2997.0,1997.2 3077.7,1997.2 3077.7,1953.9 3104.8,1953.9"/>
<text class="lbl" x="3120" y="1969.8" fill="#C4526B">Finland</text>
<polyline class="con" points="2997.0,2002.6 3077.7,2002.6 3077.7,2015.9 3104.8,2015.9"/>
<text class="lbl" x="3120" y="2031.7" fill="#00875E">Iceland</text>
<polyline class="con" points="2997.0,2013.2 3050.6,2013.2 3050.6,2077.6 3104.8,2077.6"/>
<text class="lbl" x="3120" y="2093.6" fill="#9A5129">Sweden</text>
<text class="foot" x="60" y="2329.6">Source: Official data collated by Our World in Data</text>
<text class="foot" x="3340" y="2329.6" text-anchor="end">CC BY</text>
</svg>
</body></html>
